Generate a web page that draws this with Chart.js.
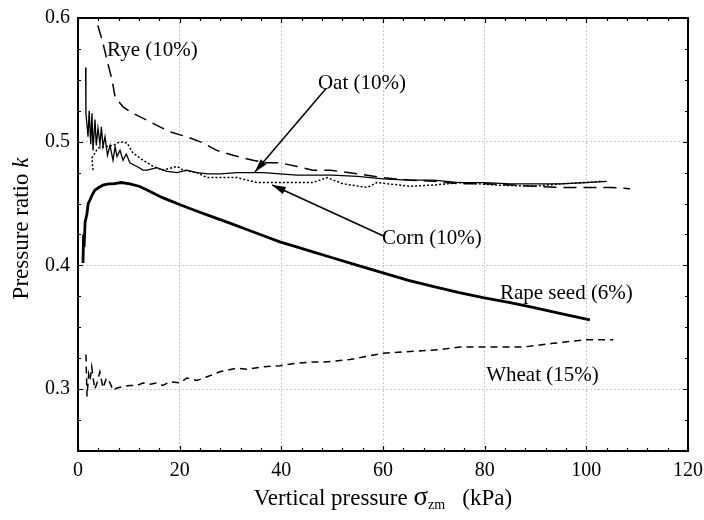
<!DOCTYPE html>
<html>
<head>
<meta charset="utf-8">
<script src="https://cdn.jsdelivr.net/npm/chart.js@4.4.1/dist/chart.umd.min.js"></script>
<style>
  html, body { margin: 0; padding: 0; background: #fff; }
  #wrap { width: 704px; height: 520px; }
</style>
</head>
<body>
<div id="wrap"><canvas id="ratioChart" width="704" height="520"></canvas></div>
<script>
// axis ticks
var xTicks = [0, 20, 40, 60, 80, 100, 120];
var yTicks = [0.3, 0.4, 0.5, 0.6];

// Rye (10%)
var ryeX = [3.4, 3.9, 4.9, 5.7, 6.7, 7.3, 8.9, 10.8, 14.2, 16.1, 18.1, 21.4, 24.6, 27.3, 30.5, 34.4, 37.2, 39.7, 43.1, 46.2, 49.6, 55, 60, 65, 70, 75, 80, 85, 90, 95, 100, 105, 108.6];
var ryeK = [0.61, 0.594, 0.580, 0.566, 0.550, 0.536, 0.528, 0.523, 0.516, 0.512, 0.508, 0.504, 0.499, 0.493, 0.489, 0.485, 0.483, 0.483, 0.480, 0.477, 0.477, 0.474, 0.471, 0.469, 0.468, 0.466, 0.466, 0.465, 0.464, 0.463, 0.463, 0.463, 0.462];

// Oat (10%)
var oatX = [1.5, 1.55, 1.57, 1.97, 2.2, 2.5, 2.75, 2.95, 3.34, 3.6, 3.93, 4.33, 4.6, 4.92, 5.31, 5.8, 6.30, 6.89, 7.3, 7.67, 8.26, 8.85, 9.5, 10.2, 11.6, 12.8, 13.6, 15.5, 17.5, 19.5, 21.4, 23.4, 25.6, 28.0, 31.3, 34.0, 36.5, 39.7, 43.1, 46.2, 50, 55, 60, 65, 70, 75, 80, 85, 90, 95, 100, 104];
var oatK = [0.560, 0.540, 0.523, 0.504, 0.525, 0.498, 0.523, 0.493, 0.518, 0.497, 0.511, 0.498, 0.512, 0.496, 0.504, 0.489, 0.497, 0.485, 0.496, 0.488, 0.493, 0.485, 0.490, 0.483, 0.480, 0.477, 0.477, 0.479, 0.476, 0.475, 0.477, 0.475, 0.474, 0.474, 0.475, 0.475, 0.475, 0.474, 0.473, 0.473, 0.473, 0.472, 0.470, 0.469, 0.469, 0.467, 0.467, 0.466, 0.466, 0.466, 0.467, 0.468];

// Corn (10%)
var cornX = [2.95, 2.75, 3.93, 5.31, 6.89, 8.26, 9.64, 10.8, 12.8, 14.8, 16.7, 19.5, 20.7, 23.4, 25.4, 28.5, 31.3, 33.2, 35.2, 40, 46.2, 49.0, 52.1, 56.9, 58.8, 65.3, 70, 75.2, 82, 89.5, 95, 99.4, 103.3];
var cornK = [0.477, 0.487, 0.495, 0.496, 0.497, 0.500, 0.499, 0.491, 0.485, 0.480, 0.477, 0.480, 0.477, 0.475, 0.471, 0.471, 0.471, 0.469, 0.467, 0.467, 0.467, 0.471, 0.466, 0.463, 0.467, 0.464, 0.465, 0.467, 0.465, 0.464, 0.466, 0.467, 0.468];

// Rape seed (6%)
var rapeX = [0.98, 1.1, 1.2, 1.4, 1.77, 2.0, 2.36, 2.8, 3.34, 4.1, 4.92, 6.0, 6.89, 8.5, 10.2, 12.0, 13.6, 16.5, 20.1, 23.3, 26.6, 30.0, 33.2, 36.5, 39.7, 43.0, 46.2, 50.2, 55.0, 60.0, 65.0, 69.8, 75.0, 79.7, 85.0, 89.5, 95.0, 100.7];
var rapeK = [0.402, 0.425, 0.415, 0.435, 0.442, 0.450, 0.453, 0.457, 0.461, 0.463, 0.465, 0.466, 0.466, 0.467, 0.466, 0.464, 0.461, 0.455, 0.449, 0.444, 0.439, 0.434, 0.429, 0.424, 0.419, 0.415, 0.411, 0.406, 0.400, 0.394, 0.388, 0.383, 0.378, 0.374, 0.370, 0.366, 0.361, 0.356];

// Wheat (15%)
var wheatX = [1.57, 1.77, 2.1, 2.36, 2.7, 2.95, 3.3, 3.74, 4.3, 4.92, 5.6, 6.30, 6.89, 7.67, 8.85, 10.2, 11.6, 12.8, 14.2, 15.5, 16.7, 18.1, 20.1, 21.4, 23.4, 25.4, 27.9, 31.3, 33.2, 36.4, 39.7, 43.1, 46.2, 48.6, 53.5, 60.0, 71.2, 75.2, 87.5, 93.4, 100.1, 105.3];
var wheatK = [0.328, 0.294, 0.312, 0.307, 0.318, 0.310, 0.300, 0.305, 0.314, 0.301, 0.309, 0.305, 0.299, 0.301, 0.302, 0.303, 0.303, 0.305, 0.304, 0.305, 0.303, 0.306, 0.305, 0.309, 0.307, 0.310, 0.314, 0.317, 0.316, 0.318, 0.319, 0.321, 0.322, 0.322, 0.324, 0.329, 0.332, 0.334, 0.334, 0.337, 0.340, 0.340];

function pts(xs, ys) {
  return xs.map(function (x, i) { return { x: x, y: ys[i] }; });
}

var serif = '"Liberation Serif", "DejaVu Serif", serif';

// curve labels and arrows, placed in data units
var notes = [
  { text: 'Rye (10%)', x: 5.7, y: 0.574 },
  { text: 'Oat (10%)', x: 47.2, y: 0.547 },
  { text: 'Corn (10%)', x: 59.8, y: 0.422 },
  { text: 'Rape seed (6%)', x: 83.0, y: 0.377 },
  { text: 'Wheat (15%)', x: 80.3, y: 0.311 }
];
var arrows = [
  { from: [48.8, 0.543], to: [34.8, 0.4755] },
  { from: [60.0, 0.424], to: [38.2, 0.465] }
];

var framePlugin = {
  id: 'frame',
  afterDatasetsDraw: function (chart) {
    var ctx = chart.ctx, a = chart.chartArea;
    var xs = chart.scales.x, ys = chart.scales.y;
    ctx.save();
    ctx.strokeStyle = '#000';
    ctx.lineWidth = 2;
    ctx.strokeRect(a.left, a.top, a.right - a.left, a.bottom - a.top);

    // inward ticks
    ctx.lineWidth = 1.2;
    ctx.beginPath();
    for (var v = 0; v <= 120; v += 4) {
      var px = Math.round(xs.getPixelForValue(v)) + 0.5;
      var len = (v % 20 === 0) ? 5 : 3;
      ctx.moveTo(px, a.bottom); ctx.lineTo(px, a.bottom - len);
      ctx.moveTo(px, a.top); ctx.lineTo(px, a.top + len);
    }
    for (var i = 0; i <= 14; i++) {
      var val = 0.25 + i * 0.025;
      var py = Math.round(ys.getPixelForValue(val)) + 0.5;
      var l2 = (i % 4 === 2) ? 5 : 3;
      ctx.moveTo(a.left, py); ctx.lineTo(a.left + l2, py);
      ctx.moveTo(a.right, py); ctx.lineTo(a.right - l2, py);
    }
    ctx.stroke();

    // labels
    ctx.fillStyle = '#000';
    ctx.font = '21px ' + serif;
    ctx.textBaseline = 'middle';
    ctx.textAlign = 'left';
    notes.forEach(function (n) {
      ctx.fillText(n.text, xs.getPixelForValue(n.x), ys.getPixelForValue(n.y));
    });

    // arrows
    ctx.lineWidth = 1.5;
    arrows.forEach(function (ar) {
      var x1 = xs.getPixelForValue(ar.from[0]), y1 = ys.getPixelForValue(ar.from[1]);
      var x2 = xs.getPixelForValue(ar.to[0]), y2 = ys.getPixelForValue(ar.to[1]);
      var ang = Math.atan2(y2 - y1, x2 - x1);
      ctx.beginPath();
      ctx.moveTo(x1, y1); ctx.lineTo(x2, y2);
      ctx.stroke();
      ctx.beginPath();
      ctx.moveTo(x2, y2);
      ctx.lineTo(x2 - 14 * Math.cos(ang - 0.28), y2 - 14 * Math.sin(ang - 0.28));
      ctx.lineTo(x2 - 14 * Math.cos(ang + 0.28), y2 - 14 * Math.sin(ang + 0.28));
      ctx.closePath();
      ctx.fill();
    });

    // axis titles
    var midX = (a.left + a.right) / 2;
    ctx.textBaseline = 'alphabetic';
    var p1 = 'Vertical pressure ', p3 = '   (kPa)';
    ctx.font = '23px ' + serif;
    var w1 = ctx.measureText(p1).width, w3 = ctx.measureText(p3).width;
    ctx.font = '27px ' + serif;
    var w2 = ctx.measureText('σ').width;
    ctx.font = '14px ' + serif;
    var w2b = ctx.measureText('zm').width;
    var sx = midX - (w1 + w2 + w2b + w3) / 2, by = 505;
    ctx.font = '23px ' + serif; ctx.fillText(p1, sx, by);
    ctx.font = '27px ' + serif; ctx.fillText('σ', sx + w1, by);
    ctx.font = '14px ' + serif; ctx.fillText('zm', sx + w1 + w2, by + 4);
    ctx.font = '23px ' + serif; ctx.fillText(p3, sx + w1 + w2 + w2b, by);

    ctx.save();
    ctx.translate(28, (a.top + a.bottom) / 2 - 6);
    ctx.rotate(-Math.PI / 2);
    ctx.font = '23px ' + serif;
    var t1 = 'Pressure ratio ';
    var tw = ctx.measureText(t1).width;
    ctx.font = 'italic 23px ' + serif;
    var kw = ctx.measureText('k').width;
    ctx.font = '23px ' + serif;
    ctx.fillText(t1, -(tw + kw) / 2, 0);
    ctx.font = 'italic 23px ' + serif;
    ctx.fillText('k', -(tw + kw) / 2 + tw, 0);
    ctx.restore();
    ctx.restore();
  }
};

function line(label, data, width, dash) {
  return {
    label: label,
    data: data,
    borderColor: '#000',
    borderWidth: width,
    borderDash: dash,
    pointRadius: 0,
    tension: 0,
    fill: false,
    clip: 0
  };
}

var ctx = document.getElementById('ratioChart').getContext('2d');
var ratioChart = new Chart(ctx, {
  type: 'line',
  data: {
    datasets: [
      line('Rye (10%)', pts(ryeX, ryeK), 1.5, [13, 7]),
      line('Oat (10%)', pts(oatX, oatK), 1.3, []),
      line('Corn (10%)', pts(cornX, cornK), 1.5, [2, 2]),
      line('Rape seed (6%)', pts(rapeX, rapeK), 2.8, []),
      line('Wheat (15%)', pts(wheatX, wheatK), 1.5, [7, 5])
    ]
  },
  options: {
    responsive: false,
    animation: false,
    layout: { padding: { left: 37, right: 16, top: 18, bottom: 29 } },
    plugins: {
      legend: { display: false },
      tooltip: { enabled: false }
    },
    scales: {
      x: {
        type: 'linear',
        min: 0,
        max: 120,
        afterBuildTicks: function (s) { s.ticks = xTicks.map(function (v) { return { value: v }; }); },
        afterFit: function (s) { s.paddingRight = 0; s.paddingLeft = 0; },
        ticks: { color: '#000', font: { family: serif, size: 20 }, padding: 8, maxRotation: 0 },
        grid: { color: '#c8c8c8', lineWidth: 1, drawTicks: false },
        border: { display: false, dash: [2, 2] }
      },
      y: {
        type: 'linear',
        min: 0.25,
        max: 0.6,
        afterBuildTicks: function (s) { s.ticks = yTicks.map(function (v) { return { value: v }; }); },
        afterFit: function (s) { s.paddingTop = 0; s.paddingBottom = 0; },
        ticks: {
          color: '#000', font: { family: serif, size: 20 }, padding: 8,
          callback: function (v) { return v.toFixed(1); }
        },
        grid: { color: '#c8c8c8', lineWidth: 1, drawTicks: false },
        border: { display: false, dash: [2, 2] }
      }
    }
  },
  plugins: [framePlugin]
});
</script>
</body>
</html>
